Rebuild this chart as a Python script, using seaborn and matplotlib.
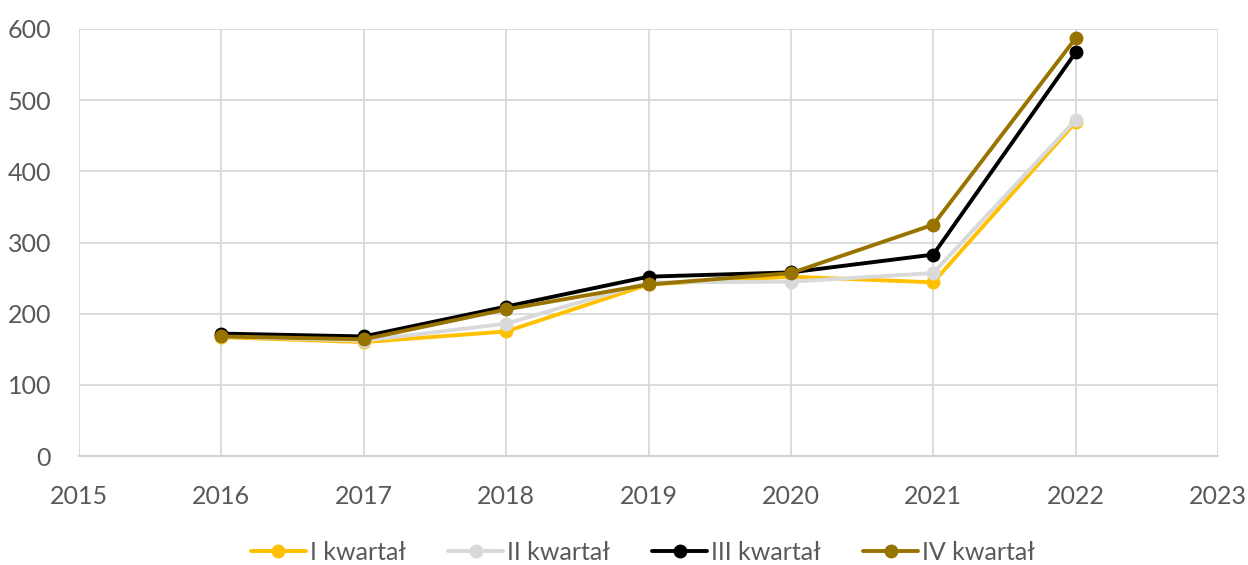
import matplotlib
matplotlib.use("Agg")
import matplotlib.pyplot as plt
import pandas as pd
import seaborn as sns

years = [2016, 2017, 2018, 2019, 2020, 2021, 2022]
q1 = [167, 160, 175, 241, 252, 244, 469]
q2 = [168, 162, 186, 244, 245, 257, 472]
q3 = [172, 168, 210, 252, 258, 283, 567]
q4 = [168, 164, 206, 241, 257, 325, 587]
series_names = ["I kwartał", "II kwartał", "III kwartał", "IV kwartał"]
colors = ["#FFC000", "#D9D9D9", "#000000", "#997300"]

df = pd.DataFrame({"rok": years, series_names[0]: q1, series_names[1]: q2,
                   series_names[2]: q3, series_names[3]: q4})
long_df = df.melt(id_vars="rok", var_name="seria", value_name="wartosc")

sns.set_theme(style="white")
plt.rcParams['font.family'] = ['Lato', 'DejaVu Sans']

fig = plt.figure(figsize=(12.48, 5.65), dpi=100)
ax = fig.add_axes([79 / 1248, 1 - 456 / 565, (1218 - 79) / 1248, (456 - 29) / 565])

sns.lineplot(data=long_df, x="rok", y="wartosc", hue="seria", hue_order=series_names,
             palette=colors, marker="o", markersize=10, markeredgewidth=0,
             linewidth=2.8, ax=ax)

ax.set_xlim(2015, 2023)
ax.set_ylim(0, 600)
ax.set_xticks(range(2015, 2024))
ax.set_yticks(range(0, 601, 100))
ax.grid(True, color="#D9D9D9", linewidth=1.3)
ax.set_axisbelow(True)
for side in ["top", "right", "left"]:
    ax.spines[side].set_visible(False)
ax.spines["bottom"].set_color("#D0D0D0")
ax.spines["bottom"].set_linewidth(1.3)
ax.tick_params(axis="both", length=0, labelsize=18, labelcolor="#595959")
ax.tick_params(axis="x", pad=21)
ax.tick_params(axis="y", pad=20)
ax.set_xlabel("")
ax.set_ylabel("")

leg = ax.legend(loc="center", bbox_to_anchor=(0.495, -0.225), ncol=4, frameon=False,
                fontsize=18, handlelength=2.2, columnspacing=1.7, handletextpad=0.15)
for t in leg.get_texts():
    t.set_color("#595959")

fig.savefig("out.png", dpi=100)
